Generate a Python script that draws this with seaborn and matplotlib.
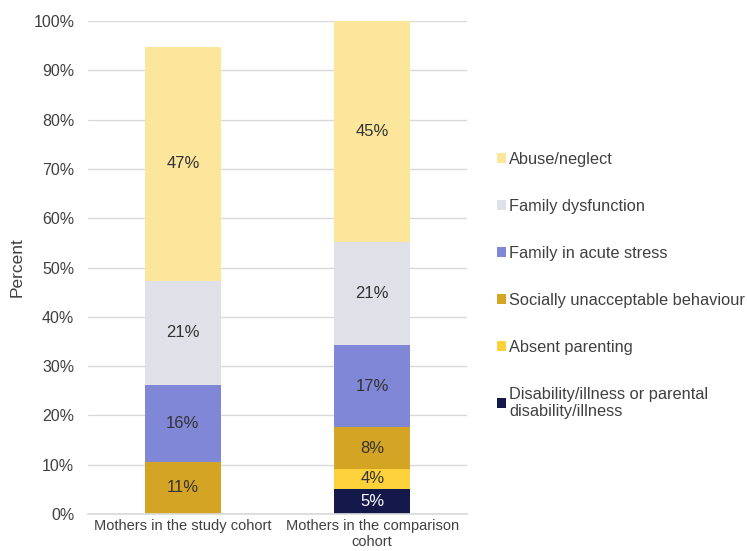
import numpy as np
import pandas as pd
import matplotlib
matplotlib.use("Agg")
import matplotlib.pyplot as plt
import seaborn as sns
from matplotlib.patches import Patch

# Data (percent of mothers)
cohorts = ["Mothers in the study cohort", "Mothers in the comparison\ncohort"]
categories = ["Disability/illness or parental\ndisability/illness", "Absent parenting",
              "Socially unacceptable behaviour", "Family in acute stress",
              "Family dysfunction", "Abuse/neglect"]
disability = [0, 5.1]
absent = [0, 4.1]
socially = [10.6, 8.4]
acute = [15.6, 16.7]
dysfunction = [21.1, 20.9]
abuse = [47.4, 44.8]

colors = ["#15184a", "#fdd13a", "#d4a524", "#7f87d6", "#e0e0e8", "#fce69b"]
label_colors = ["white", "#333333", "#333333", "#333333", "#333333", "#333333"]

sns.set_theme(style="white")
plt.rcParams["font.family"] = ["Liberation Sans", "DejaVu Sans"]

series = [disability, absent, socially, acute, dysfunction, abuse]

fig, ax = plt.subplots(figsize=(7.47, 5.51), dpi=100)
fig.subplots_adjust(left=0.118, right=0.625, bottom=0.067, top=0.962)

ax.yaxis.grid(True, color="#d9d9d9", linewidth=1)
ax.set_axisbelow(True)

bottom = np.zeros(len(cohorts))
for name, vals, col, lc in zip(categories, series, colors, label_colors):
    vals = np.array(vals, dtype=float)
    sns.barplot(x=cohorts, y=vals, bottom=bottom, color=col, width=0.4,
                errorbar=None, ax=ax, order=cohorts, saturation=1, linewidth=0)
    cont = ax.containers[-1]
    labels = [f"{v:.0f}%" if v > 0 else "" for v in vals]
    ax.bar_label(cont, labels=labels, label_type="center", color=lc, fontsize=12)
    bottom += vals

ax.set_ylim(0, 100)
ax.set_yticks(range(0, 101, 10))
ax.set_yticklabels([f"{t}%" for t in range(0, 101, 10)], fontsize=11.5, color="#404040")
ax.tick_params(axis="x", labelsize=10.5, colors="#404040", length=0)
ax.tick_params(axis="y", length=0, pad=10)
ax.set_ylabel("Percent", fontsize=12.5, color="#404040", labelpad=6)
ax.set_xlabel("")
for s in ["top", "right", "left"]:
    ax.spines[s].set_visible(False)
ax.spines["bottom"].set_color("#d9d9d9")

handles = [Patch(facecolor=c, edgecolor="none") for c in colors[::-1]]
leg = ax.legend(handles, categories[::-1], loc="center left", bbox_to_anchor=(1.04, 0.463),
                frameon=False, fontsize=11.8, handlelength=0.55, handleheight=0.55,
                handletextpad=0.2, labelspacing=1.95)
for t in leg.get_texts():
    t.set_color("#404040")

fig.savefig("out.png", dpi=100)
